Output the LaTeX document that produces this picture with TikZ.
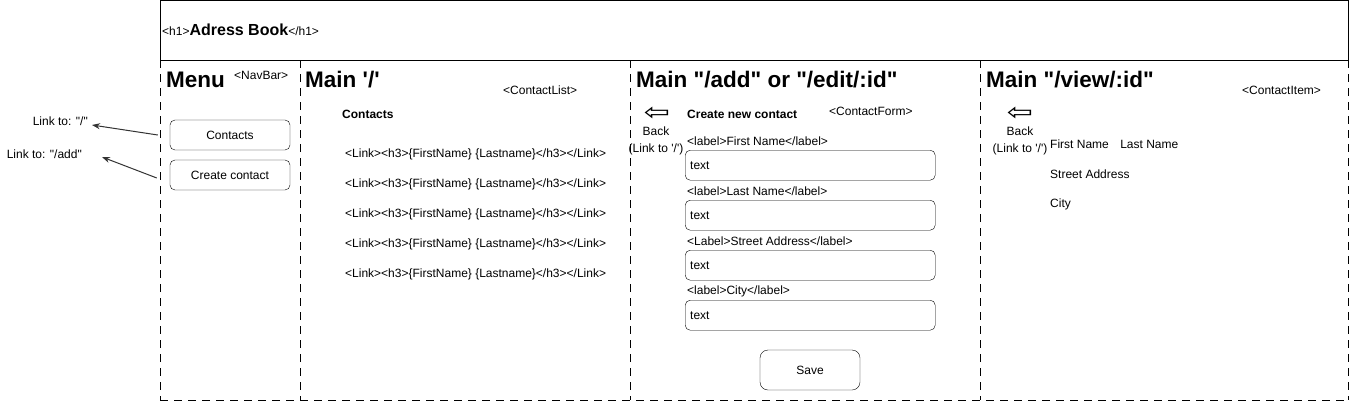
\documentclass[tikz,border=0pt]{standalone}
\usepackage{fontspec}
\setmainfont{Liberation Sans}[Ligatures=TeXOff]
\newfontfamily\symfont{DejaVu Sans}
\usetikzlibrary{positioning, arrows.meta}

\tikzset{
	txt/.style = {inner sep = 0pt, anchor = west, font = \fontsize{12}{17}\selectfont},
	bold/.style = {txt, font = \fontsize{12}{17}\selectfont\bfseries},
	ttl/.style = {inner sep = 0pt, anchor = west, font = \fontsize{22.5}{26}\selectfont\bfseries},
	btn/.style = {draw, rounded corners = 5pt, minimum width = 120pt, minimum height = 30pt, font = \fontsize{12}{14}\selectfont},
	field/.style = {draw, rounded corners = 5pt, anchor = north west, minimum height = 30pt,
		text width = 240pt, inner xsep = 5pt, align = left, font = \fontsize{12}{14}\selectfont},
	backarrow/.style = {inner sep = 0pt, xscale = 1.3, font = \symfont\fontsize{24}{24}\selectfont},
	col/.style = {line width = 1pt, dash pattern = on 8pt off 6pt},
	linkarrow/.style = {-{Stealth[length = 8pt, width = 6pt]}, line width = 1pt, black!80}
}

\begin{document}
\begin{tikzpicture}[x = 1pt, y = -1pt]
	\useasboundingbox (0, 0) rectangle (1351, 402);
	% page frame
	\draw[line width = 1pt] (160, 0.5) rectangle (1348, 60);
	\foreach \x in {160, 300, 630, 980, 1348}
		\draw[col] (\x, 60) -- (\x, 400);
	\draw[col] (160, 400) -- (1348, 400);
	\node[inner sep = 0pt, anchor = west] (header) at (162, 30)
		{{\fontsize{12}{14}\selectfont<h1>}{\fontsize{16}{19}\selectfont\bfseries Adress Book}{\fontsize{12}{14}\selectfont</h1>}};

	% menu
	\node[ttl] (menu) at (166, 80) {Menu};
	\node[txt] (navbar) at (234, 75) {<NavBar>};
	\node[btn] (bcontacts) at (230, 135) {Contacts};
	\node[btn] (bcreate) at (230, 175) {Create contact};
	\node[txt, anchor = east] (lhome) at (88, 121) {Link to: "/"};
	\node[txt, anchor = east] (ladd) at (82, 154) {Link to: "/add"};
	\draw[linkarrow] ([xshift = -12pt]bcontacts.west) -- ([shift = {(4, 4)}]lhome.east);
	\draw[linkarrow] ([shift = {(-13, 3)}]bcreate.west) -- ([shift = {(20, 3)}]ladd.east);

	% contact list
	\node[ttl] (mlist) at (305, 80) {Main '/'};
	\node[txt] (listtag) at (503, 90) {<ContactList>};
	\node[bold] (listhead) at (342, 114) {Contacts};
	\foreach \i in {1, ..., 5}
		\node[txt] (row\i) at (345, {124 + 30*\i}) {<Link><h3>\{FirstName\} \{Lastname\}</h3></Link>};

	% contact form
	\node[ttl] (mform) at (636, 80) {Main "/add" or "/edit/:id"};
	\node[backarrow] (fback) at (657, 114) {⇦};
	\node[txt, anchor = center, align = center] (fbacktxt) at (656, 141) {Back\\(Link to '/')};
	\node[bold] (formhead) at (687, 114) {Create new contact};
	\node[txt] (formtag) at (829, 111) {<ContactForm>};
	\foreach \lbl [count = \i] in {<label>First Name</label>, <label>Last Name</label>, <Label>Street Address</label>, <label>City</label>}
	{
		\node[txt] (lab\i) at (687, {91 + 50*\i}) {\lbl};
		\node[field] (fld\i) at (685, {100 + 50*\i}) {text};
	}
	\node[btn, minimum width = 100pt, minimum height = 40pt, rounded corners = 8pt] (save) at (810, 370) {Save};

	% contact item
	\node[ttl] (mview) at (986, 80) {Main "/view/:id"};
	\node[txt] (itemtag) at (1242, 90) {<ContactItem>};
	\node[backarrow] (vback) at (1020, 114) {⇦};
	\node[txt, anchor = center, align = center] (vbacktxt) at (1020, 141) {Back\\(Link to '/')};
	\node[txt] (fname) at (1050, 144) {First Name};
	\node[txt, right = 11pt of fname] (lname) {Last Name};
	\node[txt] (street) at (1050, 174) {Street Address};
	\node[txt] (city) at (1050, 204) {City};
\end{tikzpicture}
\end{document}
